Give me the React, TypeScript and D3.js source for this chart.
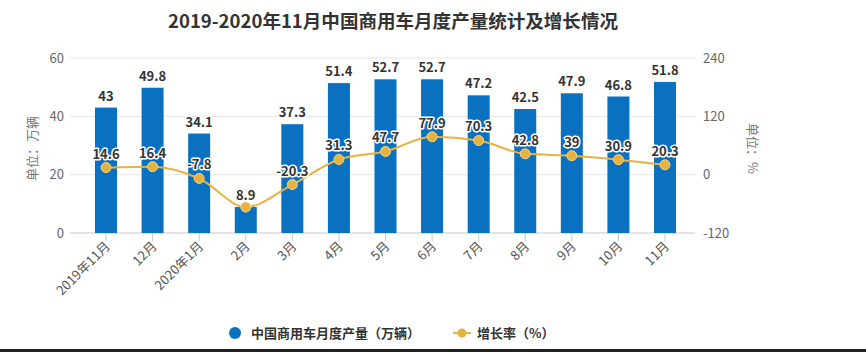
import React from 'react';
import * as d3 from 'd3';

const categories = ['2019年11月', '12月', '2020年1月', '2月', '3月', '4月', '5月', '6月', '7月', '8月', '9月', '10月', '11月'];
const production = [43, 49.8, 34.1, 8.9, 37.3, 51.4, 52.7, 52.7, 47.2, 42.5, 47.9, 46.8, 51.8];
const growth = [14.6, 16.4, -7.8, -66.7, -20.3, 31.3, 47.7, 77.9, 70.3, 42.8, 39, 30.9, 20.3];
const leftTicks = [0, 20, 40, 60];
const rightTicks = [-120, 0, 120, 240];
// growth label hidden where it collides with the bar label
const hiddenGrowthLabels = ['2月'];

const W = 866;
const H = 352;
const plotLeft = 70;
const plotRight = 695;
const plotTop = 58;
const plotBottom = 233;

const BAR = '#0a70c0';
const LINE = '#e8b23e';
const FONT = '"Microsoft YaHei", "Noto Sans CJK SC", "Noto Sans", sans-serif';

const App = () => {
  const x = d3.scalePoint<string>().domain(categories).range([106, 665]);
  const yL = d3.scaleLinear().domain([0, 60]).range([plotBottom, plotTop]);
  const yR = d3.scaleLinear().domain([-120, 240]).range([plotBottom, plotTop]);
  const barW = 22;

  const line = d3.line<number>()
    .x((_, i) => x(categories[i]) as number)
    .y(d => yR(d))
    .curve(d3.curveMonotoneX);

  const halo = { paintOrder: 'stroke', stroke: '#fff', strokeWidth: 3, strokeLinejoin: 'round' } as React.CSSProperties;

  return (
    <svg width={W} height={H} style={{ position: 'absolute', left: 0, top: 0, background: '#fff' }} fontFamily={FONT}>
      <rect width={W} height={H} fill="#fff" />

      {/* title */}
      <text x={393} y={28} textAnchor="middle" fontSize={18} fontWeight="bold" fill="#333"
        textLength={450} lengthAdjust="spacingAndGlyphs">
        2019-2020年11月中国商用车月度产量统计及增长情况
      </text>

      {/* grid */}
      {leftTicks.map(t => (
        <line key={'g' + t} x1={plotLeft} x2={plotRight} y1={yL(t)} y2={yL(t)}
          stroke={t === 0 ? '#c8c8c8' : '#e6e6e6'} strokeWidth={1} />
      ))}

      {/* left axis */}
      {leftTicks.map(t => (
        <text key={'l' + t} x={64} y={yL(t)} dy="0.35em" textAnchor="end" fontSize={13} fill="#666">{t}</text>
      ))}
      <text transform={`translate(37,${(plotTop + plotBottom) / 2 + 3}) rotate(-90)`} textAnchor="middle"
        fontSize={13} fill="#777">单位：万辆</text>

      {/* right axis */}
      {rightTicks.map(t => (
        <text key={'r' + t} x={703} y={yR(t)} dy="0.35em" textAnchor="start" fontSize={13} fill="#666">{t}</text>
      ))}
      <text transform={`translate(748,${(plotTop + plotBottom) / 2 + 3}) rotate(90)`} textAnchor="middle"
        fontSize={13} fill="#777">单位：%</text>

      {/* x ticks + labels */}
      {categories.map(c => (
        <g key={'x' + c}>
          <line x1={x(c)} x2={x(c)} y1={plotBottom} y2={plotBottom + 8} stroke="#c8c8c8" />
          <text transform={`translate(${(x(c) as number) + 5},${plotBottom + 14}) rotate(-45)`} textAnchor="end"
            fontSize={13} fill="#555">{c}</text>
        </g>
      ))}

      {/* bars */}
      {production.map((v, i) => (
        <rect key={'b' + i} x={(x(categories[i]) as number) - barW / 2} y={yL(v)} width={barW}
          height={yL(0) - yL(v)} fill={BAR} />
      ))}

      {/* line */}
      <path d={line(growth) || ''} fill="none" stroke={LINE} strokeWidth={2} />
      {growth.map((v, i) => (
        <circle key={'p' + i} cx={x(categories[i])} cy={yR(v)} r={5} fill={LINE} stroke="#f5d68c" strokeWidth={1} />
      ))}

      {/* bar labels */}
      {production.map((v, i) => (
        <text key={'bl' + i} x={x(categories[i])} y={yL(v) - 7} textAnchor="middle" fontSize={13}
          fontWeight="bold" fill="#333" style={halo}>{v}</text>
      ))}

      {/* growth labels */}
      {growth.map((v, i) => hiddenGrowthLabels.includes(categories[i]) ? null : (
        <text key={'gl' + i} x={x(categories[i])} y={yR(v) - 9} textAnchor="middle" fontSize={13}
          fontWeight="bold" fill="#333" style={halo}>{v}</text>
      ))}

      {/* legend */}
      <circle cx={235} cy={333} r={6} fill={BAR} />
      <text x={251} y={333} dy="0.35em" fontSize={13} fontWeight="bold" fill="#333">中国商用车月度产量（万辆）</text>
      <line x1={453} x2={471} y1={333} y2={333} stroke={LINE} strokeWidth={2} />
      <circle cx={462} cy={333} r={4.5} fill={LINE} />
      <text x={477} y={333} dy="0.35em" fontSize={13} fontWeight="bold" fill="#333">增长率（%）</text>

      {/* bottom border */}
      <rect x={0} y={349} width={W} height={3} fill="#222" />
    </svg>
  );
};

export default App;
